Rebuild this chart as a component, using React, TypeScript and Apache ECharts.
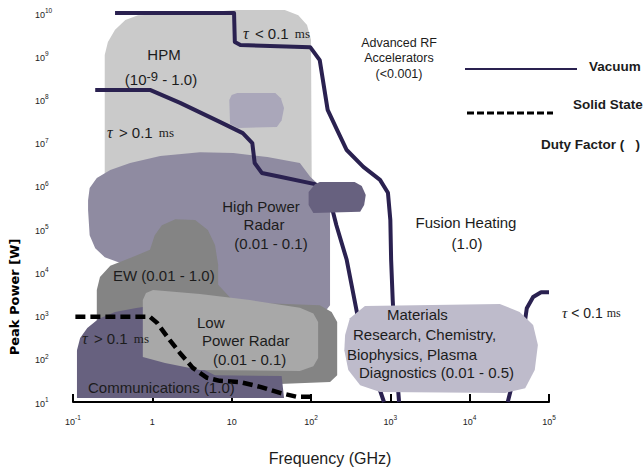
import React, { useEffect, useRef } from "react";
import * as echarts from "echarts";

// Coordinates are decades: x = log10(frequency in GHz), y = log10(peak power in W)
const xTickExponents = [-1, 0, 1, 2, 3, 4, 5];
const yTickExponents = [1, 2, 3, 4, 5, 6, 7, 8, 9, 10];

const hpmRegion = [
  [-0.6, 6.14], [-0.6, 9.03], [-0.56, 9.33], [-0.47, 9.61], [-0.34, 9.84], [-0.18, 9.95],
  [0.6, 10.0], [1.04, 10.07], [1.67, 10.07], [1.84, 9.95], [1.95, 9.72], [2.0, 9.38],
  [2.01, 5.79], [1.23, 6.14],
];
const hpmCore = [
  [1.07, 8.15], [1.55, 8.15], [1.62, 8.03], [1.66, 7.8], [1.63, 7.52], [1.57, 7.36],
  [1.08, 7.34], [0.98, 7.43], [0.97, 7.99], [1.0, 8.1],
];
const highPowerRadarRegion = [
  [-0.81, 5.44], [-0.81, 5.67], [-0.79, 5.95], [-0.7, 6.18], [-0.53, 6.37], [-0.28, 6.53],
  [0.1, 6.69], [0.6, 6.78], [1.02, 6.76], [1.45, 6.67], [1.86, 6.53], [1.99, 6.21],
  [2.14, 5.95], [2.24, 5.67], [2.24, 3.24], [2.18, 3.1], [0.98, 3.08], [-0.03, 3.94],
  [-0.41, 4.22], [-0.6, 4.35], [-0.72, 4.56], [-0.79, 4.86],
];
const gyrotronBlob = [
  [2.11, 6.09], [2.55, 6.09], [2.64, 6.0], [2.69, 5.79], [2.67, 5.56], [2.62, 5.4],
  [2.03, 5.37], [1.97, 5.56], [1.97, 5.86], [2.05, 6.04],
];
const ewRegion = [
  [-0.7, 2.78], [-0.7, 3.59], [-0.66, 3.89], [-0.53, 4.15], [-0.28, 4.33], [-0.03, 4.52],
  [0.03, 4.86], [0.12, 5.09], [0.29, 5.23], [0.54, 5.21], [0.7, 4.98], [0.79, 4.63],
  [0.83, 4.17], [0.83, 3.71], [1.0, 3.38], [1.36, 3.29], [2.11, 3.24], [2.26, 3.08],
  [2.33, 2.85], [2.33, 1.62], [2.24, 1.46], [1.23, 1.39], [-0.03, 1.51], [-0.66, 1.97],
];
const communicationsRegion = [
  [-0.95, 1.09], [-0.95, 2.2], [-0.91, 2.48], [-0.82, 2.71], [-0.68, 2.92], [-0.47, 3.08],
  [-0.22, 3.17], [-0.12, 3.2], [0.16, 2.43], [0.6, 1.79], [0.79, 1.62], [1.63, 1.6], [1.66, 1.09],
];
const lowPowerRadarRegion = [
  [-0.12, 3.36], [-0.08, 3.52], [0.01, 3.59], [0.6, 3.5], [1.23, 3.36], [1.86, 3.18],
  [2.03, 3.05], [2.09, 2.85], [2.09, 2.02], [2.03, 1.83], [1.86, 1.72], [0.6, 1.74],
  [0.16, 1.9], [-0.12, 2.04],
];
const materialsRegion = [
  [2.43, 2.55], [2.49, 2.94], [2.68, 3.22], [4.38, 3.27], [4.63, 3.08], [4.8, 2.78],
  [4.86, 2.32], [4.82, 1.74], [4.7, 1.32], [4.45, 1.21], [2.87, 1.23], [2.62, 1.39],
  [2.47, 1.74], [2.42, 2.2],
];

const vacuumShortPulse = [
  [-0.47, 10.0], [1.03, 10.0], [1.04, 9.33], [1.11, 9.26], [1.99, 9.21], [2.11, 8.91],
  [2.21, 7.76], [2.33, 7.29], [2.45, 6.83], [2.66, 6.44], [2.87, 6.14], [2.97, 5.84],
  [3.0, 5.21], [3.01, 4.29], [3.03, 3.36], [3.07, 1.97], [3.11, 1.0],
];
const vacuumLongPulse = [
  [-0.72, 8.22], [-0.03, 8.22], [0.35, 7.92], [0.85, 7.48], [1.14, 7.22], [1.26, 6.99],
  [1.29, 6.53], [1.38, 6.3], [1.61, 6.21], [2.05, 6.04], [2.24, 5.67], [2.32, 5.09],
  [2.45, 4.29], [2.58, 3.06], [2.74, 1.97], [2.92, 1.0],
];
const vacuumHighFrequency = [
  [5.0, 3.54], [4.9, 3.54], [4.8, 3.43], [4.72, 3.17], [4.69, 2.78], [4.62, 2.09],
  [4.55, 1.51], [4.48, 1.0],
];
const solidStateLimit = [
  [-0.97, 2.97], [-0.03, 2.97], [0.06, 2.83], [0.22, 2.43], [0.35, 2.13], [0.51, 1.79],
  [0.69, 1.56], [0.85, 1.49], [1.11, 1.46], [1.36, 1.35], [1.61, 1.21], [1.82, 1.12], [2.0, 1.12],
];

const SANS = "'Liberation Sans', Arial, Helvetica, sans-serif";
const SERIF = "'Liberation Serif', 'Times New Roman', serif";
const INK = "#1c1c1c";
const NAVY = "#2a2150";

function expLabel(v: number, base: boolean): string {
  if (base && v === 0) return "{b|1}";
  if (base && v === 1) return "{b|10}";
  return "{b|10}{s|" + v + "}";
}

function tauText(op: string) {
  return "{t|τ}{g| " + op + " 0.1 }{m|ms}";
}

function tauRich(pad: number, size: number) {
  return {
    t: { fontFamily: SERIF, fontStyle: "italic", fontSize: size + 1, fill: INK, color: INK },
    g: { fontFamily: SANS, fontSize: size, fill: INK, color: INK, padding: [0, pad, 0, pad] },
    m: { fontFamily: SERIF, fontSize: size - 2, fill: INK, color: INK },
  };
}

function label(text: string, x: number, y: number, align: string = "left", size = 15, extra: any = {}) {
  return {
    type: "text",
    x,
    y,
    z: 100,
    silent: true,
    style: {
      text,
      fill: INK,
      fontFamily: SANS,
      fontSize: size,
      align,
      verticalAlign: "middle",
      textAlign: align,
      textVerticalAlign: "middle",
      ...extra,
    },
  };
}

export default function App() {
  const ref = useRef<HTMLDivElement>(null);

  useEffect(() => {
    if (!ref.current) return;
    const chart = echarts.init(ref.current, undefined, { renderer: "svg" });

    const regions: [string, number[][], string][] = [
      ["HPM", hpmRegion, "#cacaca"],
      ["HPM core", hpmCore, "#aaa7ba"],
      ["High Power Radar", highPowerRadarRegion, "#8f8ba1"],
      ["EW", ewRegion, "#848484"],
      ["Communications", communicationsRegion, "#67617f"],
      ["Low Power Radar", lowPowerRadarRegion, "#a8a8a8"],
    ];
    const series: any[] = [];
    let z = 1;
    const addRegion = (name: string, pts: number[][], color: string) => {
      series.push({
        type: "custom",
        name,
        z: z++,
        silent: true,
        clip: false,
        data: [pts[0]],
        renderItem: (_p: any, api: any) => ({
          type: "polygon",
          shape: { points: pts.map((p) => api.coord(p)) },
          style: { fill: color, stroke: "none" },
        }),
      });
    };
    const addLine = (name: string, pts: number[][], color: string, width: number, dash?: number[]) => {
      series.push({
        type: "line",
        name,
        z: z++,
        silent: true,
        data: pts,
        symbol: "none",
        showSymbol: false,
        clip: false,
        lineStyle: { color, width, type: dash ? dash : "solid", cap: "butt", join: "round" },
      });
    };
    regions.forEach((r) => addRegion(r[0], r[1], r[2]));
    addLine("Vacuum short pulse", vacuumShortPulse, NAVY, 4);
    addLine("Vacuum long pulse", vacuumLongPulse, NAVY, 4);
    addLine("Vacuum high frequency", vacuumHighFrequency, NAVY, 4);
    addRegion("Gyrotron", gyrotronBlob, "#67617f");
    addRegion("Materials", materialsRegion, "#bebbcb");
    addLine("Solid State", solidStateLimit, "#000000", 4.5, [10, 5]);

    const axisRich = {
      b: { fontFamily: SANS, fontSize: 9, color: "#222", lineHeight: 12, verticalAlign: "bottom" },
      s: { fontFamily: SANS, fontSize: 6.5, color: "#222", lineHeight: 6, verticalAlign: "top" },
    };

    chart.setOption({
      animation: false,
      grid: { left: 73, right: 94, top: 13, bottom: 68, containLabel: false },
      xAxis: {
        type: "value",
        min: -1,
        max: 5,
        interval: 1,
        axisLine: { show: true, lineStyle: { color: "#000", width: 2 } },
        axisTick: { show: true, inside: true, length: 8, lineStyle: { color: "#000", width: 2 } },
        splitLine: { show: false },
        axisLabel: {
          margin: 12,
          formatter: (v: number) => (xTickExponents.includes(v) ? expLabel(v, true) : ""),
          rich: axisRich,
        },
      },
      yAxis: {
        type: "value",
        min: 1,
        max: 10,
        interval: 1,
        axisLine: { show: true, lineStyle: { color: "#000", width: 2 } },
        axisTick: { show: true, inside: true, length: 9, lineStyle: { color: "#000", width: 2 } },
        splitLine: { show: false },
        axisLabel: {
          margin: 38,
          align: "left",
          formatter: (v: number) => (yTickExponents.includes(v) ? expLabel(v, false) : ""),
          rich: axisRich,
        },
      },
      series,
      graphic: [
        label(tauText("<"), 243, 33, "left", 15, { rich: tauRich(2, 15) }),
        label("HPM", 164, 54, "center"),
        label("{a|(10}{s|-9}{a| - 1.0)}", 161, 78, "center", 15, {
          rich: {
            a: { fontFamily: SANS, fontSize: 15, fill: INK, color: INK, lineHeight: 17, verticalAlign: "bottom" },
            s: { fontFamily: SANS, fontSize: 13, fill: INK, color: INK, lineHeight: 8, verticalAlign: "top" },
          },
        }),
        label(tauText(">"), 107, 132, "left", 15, { rich: tauRich(2, 15) }),
        label("Advanced RF", 399, 43, "center", 12.5),
        label("Accelerators", 399, 58, "center", 12.5),
        label("(<0.001)", 399, 74, "center", 12.5),
        label("High Power", 261, 206, "center"),
        label("Radar", 264, 224, "center"),
        label("(0.01 - 0.1)", 271, 243, "center"),
        label("Fusion Heating", 466, 222, "center"),
        label("(1.0)", 467, 243, "center"),
        label("EW (0.01 - 1.0)", 113, 275),
        label("Low", 197, 322),
        label("Power Radar", 202, 340),
        label("(0.01 - 0.1)", 213, 359),
        label(tauText(">"), 82, 338, "left", 15, { rich: tauRich(2, 15) }),
        label("Communications (1.0)", 88, 387),
        label("Materials", 387, 314),
        label("Research, Chemistry,", 353, 334),
        label("Biophysics, Plasma", 347, 354),
        label("Diagnostics (0.01 - 0.5)", 359, 372),
        label(tauText("<"), 562, 313, "left", 14, { rich: tauRich(0, 14) }),
        {
          type: "line",
          z: 100,
          silent: true,
          shape: { x1: 465, y1: 69, x2: 577, y2: 69 },
          style: { stroke: NAVY, lineWidth: 2 },
        },
        {
          type: "line",
          z: 100,
          silent: true,
          shape: { x1: 467, y1: 113, x2: 553, y2: 113 },
          style: { stroke: "#000", lineWidth: 3, lineDash: [7, 3] },
        },
        label("Vacuum", 589, 66, "left", 13.5, { fontWeight: "bold" }),
        label("Solid State", 573, 104, "left", 13.5, { fontWeight: "bold" }),
        label("Duty Factor (   )", 541, 144, "left", 13.5, { fontWeight: "bold" }),
        label("Frequency (GHz)", 330, 458, "center", 16),
        {
          type: "text",
          x: 14,
          y: 297,
          rotation: Math.PI / 2,
          z: 100,
          silent: true,
          style: {
            text: "Peak Power [W]",
            fill: "#000",
            fontFamily: "'DejaVu Sans', sans-serif",
            fontWeight: "bold",
            fontSize: 13,
            align: "center",
            verticalAlign: "middle",
            textAlign: "center",
            textVerticalAlign: "middle",
          },
        },
      ],
    });

    return () => chart.dispose();
  }, []);

  return (
    <div
      ref={ref}
      style={{ position: "fixed", left: 0, top: 0, width: 643, height: 470, background: "#fff" }}
    />
  );
}
